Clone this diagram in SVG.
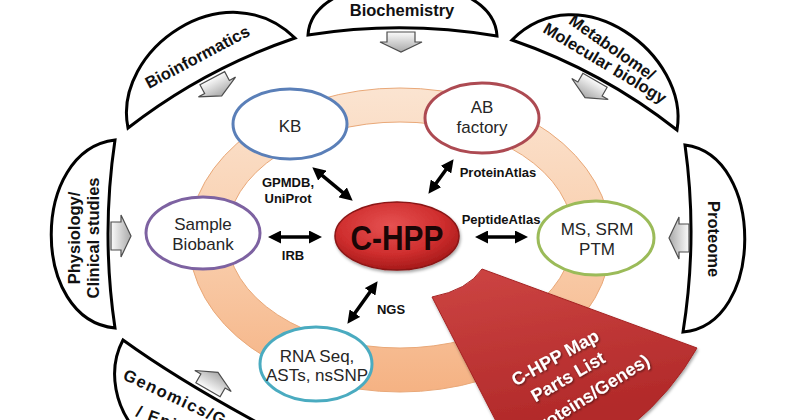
<svg xmlns="http://www.w3.org/2000/svg" width="800" height="420" viewBox="0 0 800 420">
<style>
  .shape { fill: #ffffff; stroke: #000000; stroke-width: 3; stroke-linejoin: miter; }
  .dom { font-family: "Liberation Sans", Arial, sans-serif; font-weight: bold; font-size: 16.5px; fill: #111111; }
  .node { fill: #ffffff; stroke-width: 3; }
  .lbl { font-family: "Liberation Sans", Arial, sans-serif; font-size: 17px; fill: #262626; text-anchor: middle; }
  .elbl { font-family: "Liberation Sans", Arial, sans-serif; font-weight: bold; font-size: 13px; fill: #111111; text-anchor: middle; }
  .conn { stroke: #000000; stroke-width: 3.5; fill: none; marker-start: url(#ah); marker-end: url(#ah); }
  .barrow { fill: url(#greyGrad); stroke: #4d4d4d; stroke-width: 1.2; }
  .wtext { font-family: "Liberation Sans", Arial, sans-serif; font-weight: bold; font-size: 18px; fill: #ffffff; text-anchor: middle; }
</style>
<defs>
  <linearGradient id="ringGrad" x1="0" y1="0" x2="0" y2="1">
    <stop offset="0" stop-color="#fbe4d1"/>
    <stop offset="0.5" stop-color="#f9cfae"/>
    <stop offset="1" stop-color="#f5b283"/>
  </linearGradient>
  <linearGradient id="greyGrad" x1="0" y1="0" x2="0" y2="1">
    <stop offset="0" stop-color="#fbfbfb"/>
    <stop offset="1" stop-color="#a9a9a9"/>
  </linearGradient>
  <radialGradient id="hppGrad" cx="0.45" cy="0.35" r="0.7">
    <stop offset="0" stop-color="#e65252"/>
    <stop offset="0.6" stop-color="#cf2e2e"/>
    <stop offset="1" stop-color="#9e1616"/>
  </radialGradient>
  <linearGradient id="wedgeGrad" x1="0" y1="0" x2="0.3" y2="1">
    <stop offset="0" stop-color="#cd4543"/>
    <stop offset="1" stop-color="#b22a2a"/>
  </linearGradient>
  <filter id="shadow" x="-20%" y="-20%" width="140%" height="140%">
    <feDropShadow dx="1" dy="2" stdDeviation="1.5" flood-color="#000000" flood-opacity="0.35"/>
  </filter>
  <filter id="tshadow" x="-10%" y="-30%" width="120%" height="160%">
    <feDropShadow dx="1" dy="1" stdDeviation="0.8" flood-color="#000000" flood-opacity="0.6"/>
  </filter>
  <marker id="ah" markerUnits="userSpaceOnUse" markerWidth="13" markerHeight="13" refX="3" refY="6.5" orient="auto-start-reverse">
    <path d="M0,0 L13,6.5 L0,13 Z" fill="#000000"/>
  </marker>
  <path id="blk" d="M-14,-10 H14 V0 H21 L0,10 L-21,0 H-14 Z"/>
</defs>

<g id="ring">
  <ellipse cx="400" cy="240" rx="211" ry="152" fill="url(#ringGrad)" stroke="#e9a878" stroke-width="1"/>
  <ellipse cx="400" cy="235" rx="173" ry="113" fill="#ffffff" stroke="#e9a878" stroke-width="1"/>
</g>

<g id="biochemistry">
  <path class="shape" d="M308,35 C312,-35 493,-35 497,36 Q402,20 308,35 Z"/>
  <text class="dom" x="402" y="16" text-anchor="middle">Biochemistry</text>
  <use href="#blk" class="barrow" transform="translate(401,42)"/>
</g>

<g id="bioinformatics">
  <path class="shape" d="M128,128 C112,50 225,-30 295,38 Q204,69 128,128 Z"/>
  <text class="dom" text-anchor="middle" transform="translate(200,62) rotate(-28)">Bioinformatics</text>
  <use href="#blk" class="barrow" transform="translate(217,87) rotate(-28)"/>
</g>

<g id="metabolome">
  <path class="shape" d="M512,40 C580,-28 690,55 677,130 Q602,71 512,40 Z"/>
  <text class="dom" text-anchor="middle" transform="translate(609,52) rotate(35)">Metabolome/</text>
  <text class="dom" text-anchor="middle" transform="translate(602,68) rotate(31)">Molecular biology</text>
  <use href="#blk" class="barrow" transform="translate(590,89) rotate(30)"/>
</g>

<g id="physiology">
  <path class="shape" d="M115,140 C30,150 30,320 115,328 Q101,234 115,140 Z"/>
  <text class="dom" text-anchor="middle" transform="translate(80,238) rotate(-90)">Physiology/</text>
  <text class="dom" text-anchor="middle" transform="translate(99,238) rotate(-90)">Clinical studies</text>
  <use href="#blk" class="barrow" transform="translate(121,236) rotate(-90)"/>
</g>

<g id="proteome">
  <path class="shape" d="M685,145 C765,155 765,325 683,332 Q698,238 685,145 Z"/>
  <text class="dom" text-anchor="middle" transform="translate(708,239) rotate(90)">Proteome</text>
  <use href="#blk" class="barrow" transform="translate(679,238) rotate(90)"/>
</g>

<g id="genomics">
  <path class="shape" d="M123,340 C108,368 112,410 145,440 L290,440 Q185,385 123,340 Z"/>
  <text class="dom" font-size="17" letter-spacing="1.5" transform="translate(122,379) rotate(25)">Genomics/Genetics</text>
  <text class="dom" font-size="17" letter-spacing="1.5" transform="translate(135,416) rotate(20)">/ Epigenetics</text>
  <use href="#blk" class="barrow" transform="translate(213,381) rotate(210)"/>
</g>

<g id="connectors">
  <line class="conn" x1="320" y1="173.7" x2="345" y2="194.3"/>
  <line class="conn" x1="447.7" y1="167.3" x2="434.3" y2="185.7"/>
  <line class="conn" x1="278" y1="237" x2="312" y2="237"/>
  <line class="conn" x1="485" y1="237" x2="518" y2="237"/>
  <line class="conn" x1="371.8" y1="289.4" x2="353.2" y2="315.6"/>
  <text class="elbl" x="288" y="187">GPMDB,</text>
  <text class="elbl" x="288" y="203">UniProt</text>
  <text class="elbl" x="498" y="177">ProteinAtlas</text>
  <text class="elbl" x="501" y="224">PeptideAtlas</text>
  <text class="elbl" x="293" y="260">IRB</text>
  <text class="elbl" x="391" y="314">NGS</text>
</g>

<g id="kb">
  <ellipse class="node" cx="290" cy="124" rx="57" ry="35" stroke="#5a7fb8"/>
  <text class="lbl" x="290" y="132">KB</text>
</g>

<g id="ab-factory">
  <ellipse class="node" cx="482" cy="118" rx="57" ry="35" stroke="#ad4a52"/>
  <text class="lbl" x="482" y="113">AB</text>
  <text class="lbl" x="482" y="133">factory</text>
</g>

<g id="sample-biobank">
  <ellipse class="node" cx="203" cy="233" rx="57" ry="36" stroke="#7d62a1"/>
  <text class="lbl" x="203" y="230">Sample</text>
  <text class="lbl" x="203" y="250">Biobank</text>
</g>

<g id="ms-srm">
  <ellipse class="node" cx="596" cy="238" rx="58" ry="37" stroke="#9bbb59"/>
  <text class="lbl" x="597" y="235">MS, SRM</text>
  <text class="lbl" x="597" y="255">PTM</text>
</g>

<g id="rna-seq">
  <ellipse class="node" cx="316" cy="364" rx="56" ry="37" stroke="#4aabc0"/>
  <text class="lbl" x="317" y="362">RNA Seq,</text>
  <text class="lbl" x="317" y="381">ASTs, nsSNP</text>
</g>

<g id="parts-list">
  <path d="M432,297 Q468,290 482,269 L697,348 Q672,392 632,425 L498,425 Z" fill="url(#wedgeGrad)" stroke="#a52424" stroke-width="1" filter="url(#shadow)"/>
  <g filter="url(#tshadow)">
    <text class="wtext" transform="translate(558,363) rotate(-29)">C-HPP Map</text>
    <text class="wtext" transform="translate(571,382) rotate(-30)">Parts List</text>
    <text class="wtext" transform="translate(590,402) rotate(-32)">(Proteins/Genes)</text>
  </g>
</g>

<g id="c-hpp">
  <ellipse cx="397" cy="236" rx="62" ry="34" fill="url(#hppGrad)" stroke="#8a1414" stroke-width="1.5" filter="url(#shadow)"/>
  <text x="397" y="250" text-anchor="middle" font-family="'Liberation Sans', Arial, sans-serif" font-weight="bold" font-size="35" fill="#1a0606" textLength="93" lengthAdjust="spacingAndGlyphs">C-HPP</text>
</g>
</svg>
